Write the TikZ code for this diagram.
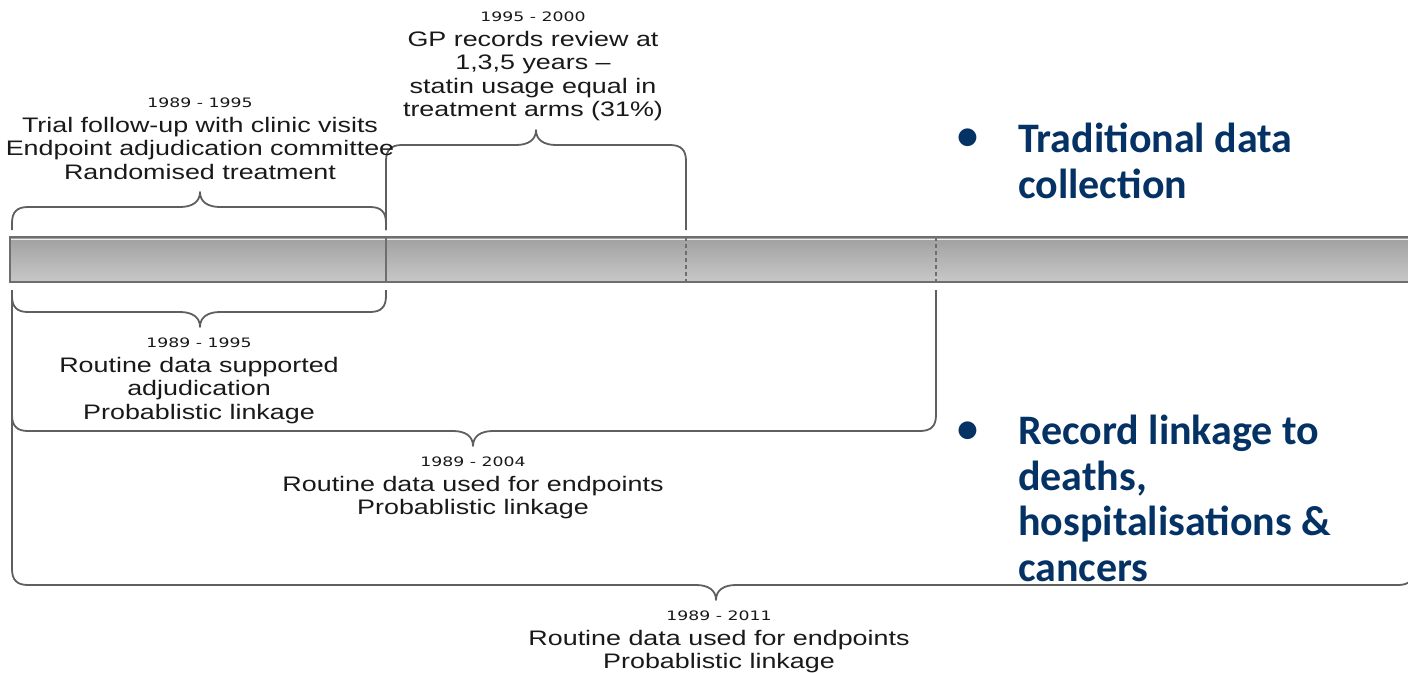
\documentclass[tikz,border=0pt]{standalone}
\usepackage{fontspec}
\setmainfont{Liberation Sans}
\newfontfamily\txtfont[FakeStretch=1.28]{Liberation Sans}
\newfontfamily\yrfont[FakeStretch=1.33]{DejaVu Sans}
\newfontfamily\bulfont{Carlito}
\definecolor{navy}{RGB}{5,50,100}
\definecolor{linegray}{RGB}{95,95,95}
\definecolor{txtgray}{RGB}{25,25,25}
\definecolor{bartop}{RGB}{160,160,160}
\definecolor{barbot}{RGB}{200,200,200}
\definecolor{barline}{RGB}{110,110,110}
\newcommand\brc[6]{%
  \draw[bracestyle] (#1,#3) -- (#1,{#4-#6*16})
    .. controls (#1,{#4-#6*5}) and ({#1+5},#4) .. ({#1+16},#4)
    -- ({#5-20},#4)
    .. controls ({#5-8},#4) and (#5,{#4+#6*5}) .. (#5,{#4+#6*15})
    .. controls (#5,{#4+#6*5}) and ({#5+8},#4) .. ({#5+20},#4)
    -- ({#2-16},#4)
    .. controls ({#2-5},#4) and (#2,{#4-#6*5}) .. (#2,{#4-#6*16})
    -- (#2,#3);}
\begin{document}
\begin{tikzpicture}[x=1pt,y=-1pt,
  bracestyle/.style={draw=linegray,line width=1.8pt,line join=round},
  lbl/.style={align=center,inner sep=0pt,anchor=north,text=txtgray,
    font=\txtfont\fontsize{21}{23.5}\selectfont},
  bul/.style={inner sep=0pt,text=navy,font=\bulfont\bfseries\fontsize{42}{45}\selectfont},
  bultext/.style={inner sep=0pt,anchor=north west,align=left,text=navy,
    font=\bulfont\bfseries\fontsize{42}{45.5}\selectfont}]
\useasboundingbox (0,0) rectangle (1408,672);
\clip (0,0) rectangle (1408,672);
\newcommand\yr[1]{{\yrfont\fontsize{13}{23.5}\selectfont #1}\\[1.5pt]}
% timeline bar
\shade[top color=bartop,bottom color=barbot] (10,237) rectangle (1420,282);
\draw[barline,line width=1.2pt] (10,237) rectangle (1420,282);
\draw[white!85!gray,line width=0.8pt] (11,239.5) -- (1420,239.5);
\draw[barline,line width=1.2pt] (386,237) -- (386,282);
\draw[barline,line width=1.2pt,dash pattern=on 4pt off 3pt] (686,237) -- (686,282);
\draw[barline,line width=1.2pt,dash pattern=on 4pt off 3pt] (936,237) -- (936,282);
% braces above
\brc{12}{386}{230}{207}{200}{-1}
\brc{386}{686}{230}{145}{536}{-1}
% braces below
\brc{12}{386}{290}{312}{200}{1}
\brc{12}{936}{290}{431}{473}{1}
\brc{12}{1414}{290}{585}{716}{1}
% labels
\node[lbl] (l1) at (200,97.5) {\yr{1989 - 1995}Trial follow-up with clinic visits\\Endpoint adjudication committee\\Randomised treatment};
\node[lbl] (l2) at (533,11.5) {\yr{1995 - 2000}GP records review at\\1,3,5 years –\\statin usage equal in\\treatment arms (31\%)};
\node[lbl] (l3) at (199,337.5) {\yr{1989 - 1995}Routine data supported\\adjudication\\Probablistic linkage};
\node[lbl] (l4) at (473,456.5) {\yr{1989 - 2004}Routine data used for endpoints\\Probablistic linkage};
\node[lbl] (l5) at (719,610.5) {\yr{1989 - 2011}Routine data used for endpoints\\Probablistic linkage};
% bullets
\node[bul] (b1) at (968,139) {•};
\node[bultext] (t1) at (1018,123) {Traditional data\\collection};
\node[bul] (b2) at (968,432) {•};
\node[bultext] (t2) at (1018,415) {Record linkage to\\deaths,\\hospitalisations \&\\cancers};
\end{tikzpicture}
\end{document}
